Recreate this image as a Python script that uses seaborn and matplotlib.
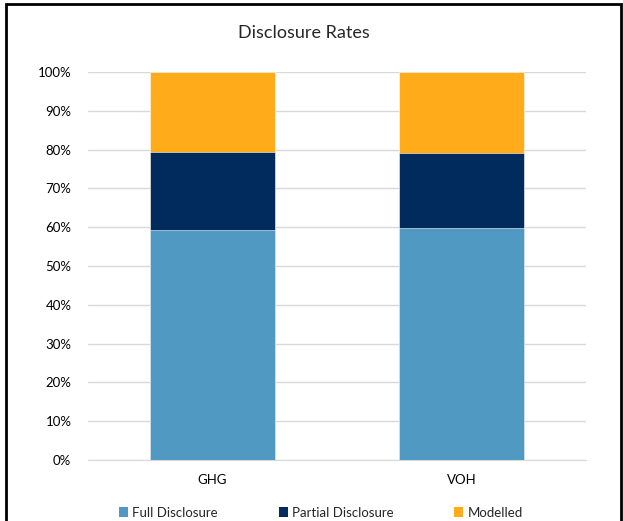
import pandas as pd
import matplotlib.pyplot as plt
import seaborn as sns
from matplotlib.patches import Patch, Rectangle
from matplotlib.ticker import PercentFormatter

# Datos (porcentajes)
categorias = ["GHG", "VOH"]
full = [59.3, 59.7]
partial = [20.0, 19.3]
modelled = [20.7, 21.0]

series = ["Full Disclosure", "Partial Disclosure", "Modelled"]
colores = ["#4F99C2", "#002B5C", "#FFAB1A"]

df = pd.DataFrame({"cat": categorias, "full": full,
                   "partial": partial, "modelled": modelled})
df["top_partial"] = df["full"] + df["partial"]
df["top_modelled"] = df["top_partial"] + df["modelled"]

sns.set_style("white")
plt.rcParams["font.family"] = ["Lato", "DejaVu Sans"]

fig = plt.figure(figsize=(6.23, 5.21), dpi=100)
ax = fig.add_axes([0.1413, 0.1171, 0.7993, 0.7447])

# Barras apiladas (se dibujan de arriba hacia abajo)
for col, color in zip(["top_modelled", "top_partial", "full"], colores[::-1]):
    sns.barplot(data=df, x="cat", y=col, color=color, width=0.5,
                edgecolor="white", linewidth=0.4, saturation=1, ax=ax, zorder=3)

ax.set_ylim(0, 100)
ax.set_xlim(-0.5, 1.5)
ax.set_yticks(range(0, 101, 10))
ax.yaxis.set_major_formatter(PercentFormatter(decimals=0))
ax.grid(axis="y", color="#D9D9D9", linewidth=1, zorder=0)
ax.set_axisbelow(True)
for s in ["top", "right", "left"]:
    ax.spines[s].set_visible(False)
ax.spines["bottom"].set_color("#D9D9D9")
ax.tick_params(axis="both", length=0, labelsize=9.5, colors="#000000")
ax.tick_params(axis="y", pad=12)
ax.tick_params(axis="x", pad=10)
ax.set_xlabel("")
ax.set_ylabel("")

fig.text(0.488, 0.936, "Disclosure Rates", ha="center", va="center", fontsize=13)

handles = [Patch(facecolor=c, edgecolor="none") for c in colores]
fig.legend(handles, series, loc="center", bbox_to_anchor=(0.515, 0.016), ncol=3,
           frameon=False, fontsize=9.5, handlelength=0.7, handleheight=0.7,
           handletextpad=0.3, columnspacing=4.6)

# Borde del gráfico
fig.add_artist(Rectangle((0.009, -0.05), 0.987, 1.043, transform=fig.transFigure,
                         fill=False, edgecolor="black", linewidth=2))

plt.savefig("out.png", dpi=100)
